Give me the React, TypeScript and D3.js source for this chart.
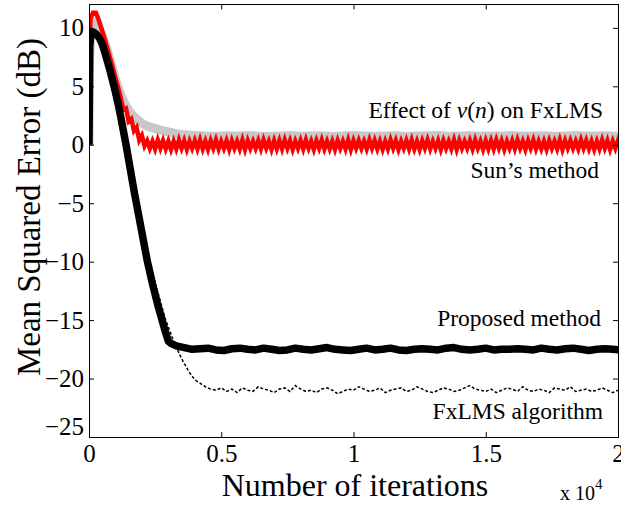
import React, { useEffect, useRef } from 'react';
import * as d3 from 'd3';

// transient parts: [iteration, MSE dB]
const grayHead: [number, number][] = [
  [0, 0], [20, 7.5], [60, 9.6], [150, 10.4], [260, 10.5], [350, 10.2], [450, 9.6], [570, 8.9],
  [700, 8.0], [800, 7.2], [900, 6.4], [1000, 5.6], [1130, 4.7], [1250, 4.0], [1400, 3.3],
  [1550, 2.8], [1700, 2.4], [1850, 2.1], [2000, 1.85], [2200, 1.6], [2420, 1.45], [2700, 1.25],
  [3000, 1.1], [3300, 0.95], [3600, 0.85],
];
const grayTail = [0.8, 0.75, 0.7, 0.78, 0.72, 0.8, 0.74, 0.7, 0.76, 0.8, 0.72, 0.75, 0.78, 0.7,
  0.74, 0.8, 0.76, 0.72, 0.75, 0.78, 0.7, 0.74, 0.77, 0.8, 0.73, 0.75, 0.78, 0.72, 0.76, 0.74,
  0.79, 0.72, 0.75, 0.77, 0.71, 0.76, 0.8, 0.74, 0.75, 0.77, 0.73];
const grayTailStart = 4000, grayTailStep = 400;

const redHead: [number, number][] = [
  [0, 0], [20, 8.5], [60, 10.8], [150, 11.3], [260, 11.3], [350, 10.8], [450, 10.1], [570, 9.2],
  [700, 8.2], [800, 7.4], [900, 6.6], [1000, 5.7], [1100, 4.9], [1200, 4.0], [1300, 3.0],
  [1400, 3.1], [1500, 2.0], [1600, 2.2], [1700, 1.2], [1800, 1.5], [1900, 0.4], [2000, 0.8],
  [2100, -0.1],
];
const redTail = [
  0.35, -0.3, 0.3, -0.35, 0.4, -0.3, 0.35, -0.35, 0.3, -0.4,
  0.3, -0.35, 0.4, -0.3, 0.35, -0.4, 0.3, -0.3, 0.35, -0.35,
  0.4, -0.35, 0.3, -0.4, 0.35, -0.3, 0.4, -0.35, 0.3, -0.3,
  0.35, -0.4, 0.35, -0.3, 0.3, -0.35, 0.4, -0.4, 0.35, -0.3,
  0.3, -0.3, 0.35, -0.35, 0.4, -0.3, 0.3, -0.4, 0.35, -0.35,
  0.35, -0.35, 0.4, -0.3, 0.35, -0.4, 0.3, -0.3, 0.35, -0.35,
  0.4, -0.3, 0.3, -0.4, 0.35, -0.3, 0.4, -0.35, 0.3, -0.35,
  0.3, -0.4, 0.35, -0.3, 0.3, -0.35, 0.4, -0.4, 0.35, -0.3,
  0.35, -0.3, 0.3, -0.35, 0.4, -0.3, 0.35, -0.35, 0.3, -0.4,
  0.3, -0.35, 0.4, -0.3, 0.35, -0.4, 0.3, -0.3, 0.35, -0.35,
  0.4, -0.35, 0.3, -0.4, 0.35, -0.3, 0.4, -0.35, 0.3, -0.3,
  0.35, -0.4, 0.35, -0.3, 0.3, -0.35, 0.4, -0.4, 0.35, -0.3,
  0.3, -0.3, 0.35, -0.35, 0.4, -0.3, 0.3, -0.4, 0.35, -0.35,
  0.35, -0.35, 0.4, -0.3, 0.35, -0.4, 0.3, -0.3, 0.35, -0.35,
  0.4, -0.3, 0.3, -0.4, 0.35, -0.3, 0.4, -0.35, 0.3, -0.35,
  0.3, -0.4, 0.35, -0.3, 0.3, -0.35, 0.4, -0.4, 0.35, -0.3,
  0.35, -0.3, 0.3, -0.35, 0.4, -0.3, 0.35, -0.35, 0.3, -0.4,
  0.3, -0.35, 0.4, -0.3, 0.35, -0.4, 0.3, -0.3, 0.35, -0.35,
  0.4, -0.3,
];
const redTailStart = 2200, redTailStep = 100;

const proposedHead: [number, number][] = [
  [0, 0], [30, 8.5], [80, 9.6], [200, 9.6], [300, 9.4], [400, 9.1], [500, 8.6], [600, 7.9],
  [700, 7.1], [800, 6.3], [900, 5.4], [1000, 4.5], [1100, 3.5], [1200, 2.4], [1300, 1.2],
  [1400, 0], [1500, -1.3], [1600, -2.6], [1700, -3.9], [1800, -5.1], [1900, -6.3], [2000, -7.5],
  [2100, -8.7], [2200, -9.9], [2300, -10.9], [2400, -11.9], [2500, -12.8], [2600, -13.7],
  [2700, -14.5], [2800, -15.3], [2900, -16.1], [3000, -16.8], [3100, -17.0], [3200, -17.1],
];
const proposedTail = [-17.2, -17.35, -17.5, -17.45, -17.4, -17.55, -17.6, -17.45, -17.4, -17.5,
  -17.55, -17.4, -17.5, -17.6, -17.55, -17.4, -17.5, -17.55, -17.45, -17.35, -17.5, -17.55,
  -17.6, -17.5, -17.4, -17.55, -17.5, -17.4, -17.55, -17.6, -17.5, -17.45, -17.5, -17.55,
  -17.4, -17.35, -17.5, -17.55, -17.5, -17.4, -17.55, -17.5, -17.5, -17.45, -17.5, -17.55,
  -17.4, -17.5, -17.55, -17.45, -17.4, -17.5, -17.6, -17.5, -17.45, -17.5, -17.55];
const proposedTailStart = 3300, proposedTailStep = 300;

const fxlmsHead: [number, number][] = [
  [0, 0], [30, 9.0], [80, 9.9], [200, 9.7], [300, 9.3], [400, 8.8], [500, 8.1], [600, 7.3],
  [700, 6.4], [800, 5.5], [900, 4.5], [1000, 3.5], [1100, 2.4], [1200, 1.3], [1300, 0.1],
  [1400, -1.1], [1500, -2.3], [1600, -3.5], [1700, -4.6], [1800, -5.7], [1900, -6.7],
  [2000, -7.7], [2100, -8.6], [2200, -9.4], [2300, -10.2], [2400, -11.0], [2500, -11.8],
  [2600, -12.6], [2700, -13.4], [2800, -14.2], [2900, -15.0], [3000, -15.6], [3100, -16.2],
  [3200, -16.8], [3300, -17.3], [3400, -17.8], [3500, -18.3], [3600, -18.7], [3700, -19.1],
  [3800, -19.5], [3900, -19.8], [4000, -20.1], [4200, -20.4], [4400, -20.7], [4600, -20.9],
];
const fxlmsTail = [
  -21.0, -20.8, -21.1, -20.9, -21.2, -20.8, -21.0, -21.1, -20.7, -20.9,
  -21.0, -21.2, -20.9, -20.8, -21.1, -20.6, -20.9, -21.1, -21.0, -21.2,
  -20.9, -20.8, -21.0, -21.3, -21.1, -20.9, -21.0, -20.7, -20.9, -21.1,
  -21.0, -20.8, -21.2, -21.0, -20.9, -20.8, -21.1, -21.0, -20.7, -20.9,
  -21.1, -21.2, -21.0, -20.8, -20.9, -21.1, -21.0, -20.8, -20.6, -20.9,
  -21.0, -21.1, -20.9, -21.2, -21.0, -20.8, -20.9, -21.1, -20.7, -21.0,
  -21.1, -20.9, -21.0, -21.2, -20.8, -20.9, -21.0, -20.7, -21.1, -21.0,
  -20.9, -21.1, -21.0, -20.8, -21.0, -21.2, -21.0,
];
const fxlmsTailStart = 4800, fxlmsTailStep = 200;

const xTicks = [0, 5000, 10000, 15000, 20000];
const xTickLabels = ['0', '0.5', '1', '1.5', '2'];
const yTicks = [-25, -20, -15, -10, -5, 0, 5, 10];

function join(head: [number, number][], tail: number[], start: number, step: number) {
  return head.concat(tail.map((v, i) => [start + i * step, v] as [number, number]));
}

export default function App() {
  const ref = useRef<SVGSVGElement>(null);

  useEffect(() => {
    const svg = d3.select(ref.current);
    svg.selectAll('*').remove();

    const left = 89, right = 618, top = 4.5, bottom = 437;
    const x = d3.scaleLinear().domain([0, 20000]).range([left, right]);
    const y = d3.scaleLinear().domain([-25, 12]).range([bottom, top]);

    svg.append('defs').append('clipPath').attr('id', 'plot')
      .append('rect').attr('x', left).attr('y', top)
      .attr('width', right - left).attr('height', bottom - top);

    const line = d3.line<[number, number]>().x(d => x(d[0])).y(d => y(d[1]));
    const g = svg.append('g').attr('clip-path', 'url(#plot)');

    g.append('path').attr('d', line(join(grayHead, grayTail, grayTailStart, grayTailStep)))
      .attr('fill', 'none').attr('stroke', '#c8c8c8').attr('stroke-width', 9)
      .attr('stroke-linejoin', 'round');
    g.append('path').attr('d', line(join(redHead, redTail, redTailStart, redTailStep)))
      .attr('fill', 'none').attr('stroke', '#ff0000').attr('stroke-width', 4.5);
    g.append('path').attr('d', line(join(proposedHead, proposedTail, proposedTailStart, proposedTailStep)))
      .attr('fill', 'none').attr('stroke', '#000').attr('stroke-width', 7.5)
      .attr('stroke-linejoin', 'round');
    g.append('path').attr('d', line(join(fxlmsHead, fxlmsTail, fxlmsTailStart, fxlmsTailStep)))
      .attr('fill', 'none').attr('stroke', '#000').attr('stroke-width', 1.5)
      .attr('stroke-dasharray', '3,2');

    // box
    svg.append('rect').attr('x', left + 0.5).attr('y', top).attr('width', right - left)
      .attr('height', bottom - top + 0.5).attr('fill', 'none').attr('stroke', '#000');

    const xb = svg.append('g').attr('transform', `translate(0,${bottom})`)
      .call(d3.axisBottom(x).tickValues(xTicks).tickSizeInner(-5).tickSizeOuter(0)
        .tickPadding(7).tickFormat((d, i) => xTickLabels[i]));
    const xt = svg.append('g').attr('transform', `translate(0,${top})`)
      .call(d3.axisTop(x).tickValues(xTicks).tickSizeInner(-5).tickSizeOuter(0).tickFormat(() => ''));
    const yl = svg.append('g').attr('transform', `translate(${left},0)`)
      .call(d3.axisLeft(y).tickValues(yTicks).tickSizeInner(-5).tickSizeOuter(0)
        .tickPadding(5).tickFormat(d => (+d < 0 ? '\u2212' + Math.abs(+d) : String(d))));
    const yr = svg.append('g').attr('transform', `translate(${right},0)`)
      .call(d3.axisRight(y).tickValues(yTicks).tickSizeInner(-5).tickSizeOuter(0).tickFormat(() => ''));

    [xb, xt, yl, yr].forEach(a => {
      a.attr('font-family', 'serif').attr('font-size', 25);
      a.select('.domain').remove();
      a.selectAll('text').attr('font-family', 'serif').attr('font-size', 25).attr('fill', '#000');
    });
    yl.selectAll<SVGTextElement, number>('text').filter(d => d === -25).attr('dy', '-0.1em');

    svg.append('text').attr('x', 355).attr('y', 496).attr('text-anchor', 'middle')
      .attr('font-family', 'serif').attr('font-size', 32).text('Number of iterations');
    svg.append('text').attr('transform', 'translate(40,207) rotate(-90)').attr('text-anchor', 'middle')
      .attr('font-family', 'serif').attr('font-size', 33).text('Mean Squared Error (dB)');

    const sci = svg.append('text').attr('x', 560).attr('y', 500)
      .attr('font-family', 'serif').attr('font-size', 20);
    sci.append('tspan').text('x 10');
    sci.append('tspan').attr('font-size', 15).attr('dy', -11).text('4');

    const note = (tx: number, ty: number) => svg.append('text').attr('x', tx).attr('y', ty)
      .attr('text-anchor', 'end').attr('font-family', 'serif').attr('font-size', 23.5);

    const e = note(603, 118);
    e.append('tspan').text('Effect of ');
    e.append('tspan').attr('font-style', 'italic').text('v');
    e.append('tspan').text('(');
    e.append('tspan').attr('font-style', 'italic').text('n');
    e.append('tspan').text(') on FxLMS');
    note(599, 178).text('Sun\u2019s method');
    note(601, 326).text('Proposed method');
    note(603, 419).text('FxLMS algorithm');
  }, []);

  return (
    <svg ref={ref} width={621} height={506} fontFamily="serif"
      style={{ position: 'absolute', left: 0, top: 0, background: '#fff' }} />
  );
}
